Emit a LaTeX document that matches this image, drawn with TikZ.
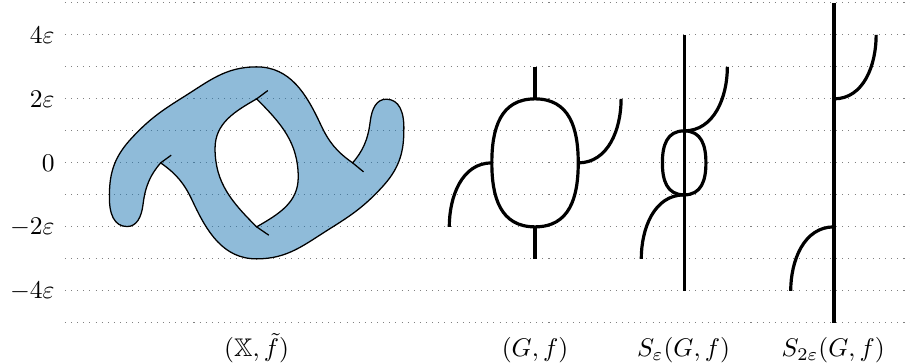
\documentclass[tikz,border=0pt]{standalone}
\usepackage{amssymb}
\definecolor{tabblue}{RGB}{31,119,180}
\begin{document}
\begin{tikzpicture}[x=0.441cm,y=0.441cm,
  gridline/.style={gray, line width=0.4pt, dotted},
  graphline/.style={line width=1.25pt},
  blobfill/.style={fill=tabblue, fill opacity=0.5, draw=black, line width=0.5pt, even odd rule},
  tickline/.style={draw=black, line width=0.5pt},
  ylab/.style={anchor=east, inner sep=0pt},
  caplabel/.style={anchor=base},
  ovalside/.style={looseness=1.15}
]
\useasboundingbox (0,-6.28) rectangle (28.4375,5.09);
% grid
\foreach \y in {-5,...,5} \draw[gridline] (2.03,\y) -- (28.4375,\y);
\node[ylab] (l4) at (1.72,4) {$4\varepsilon$};
\node[ylab] (l2) at (1.72,2) {$2\varepsilon$};
\node[ylab] (l0) at (1.72,0) {$0$};
\node[ylab] (lm2) at (1.72,-2) {$-2\varepsilon$};
\node[ylab] (lm4) at (1.72,-4) {$-4\varepsilon$};

% blob (X, f~)
\begin{scope}[shift={(8.02,0)}]
\coordinate (sL) at (-3,0);
\coordinate (sR) at (3,0);
\coordinate (cT) at (0,2);
\coordinate (cB) at (0,-2);
\path[blobfill]
  (sL) to[out=-35,in=115] (-2,-1.2) to[out=-65,in=180] (0,-3)
  to[out=0,in=-148] (2.3,-2.05) to[out=32,in=-133] (3.9,-0.78) to[out=47,in=-90] (4.6,1.0)
  .. controls (4.62,1.6) and (4.45,1.99) .. (4.05,1.99)
  .. controls (3.75,1.99) and (3.6,1.7) .. (3.55,1.3)
  .. controls (3.48,0.7) and (3.3,0.35) .. (sR)
  to[out=145,in=-65] (2,1.2) to[out=115,in=0] (0,3)
  to[out=180,in=32] (-2.3,2.05) to[out=-148,in=47] (-3.9,0.78) to[out=-133,in=90] (-4.6,-1.0)
  .. controls (-4.62,-1.6) and (-4.45,-1.99) .. (-4.05,-1.99)
  .. controls (-3.75,-1.99) and (-3.6,-1.7) .. (-3.55,-1.3)
  .. controls (-3.48,-0.7) and (-3.3,-0.35) .. (sL) -- cycle
  (cT) to[out=-150,in=90] (-1.3,0.45) to[out=-90,in=135] (cB)
  to[out=30,in=-90] (1.3,-0.45) to[out=90,in=-45] (cT) -- cycle;
\draw[tickline] (cT) -- ++(0.35,0.26);
\draw[tickline] (cB) -- ++(0.38,-0.26);
\draw[tickline] (sL) -- ++(0.33,0.24);
\draw[tickline] (sR) -- ++(0.34,-0.28);
\end{scope}
\node[caplabel] (cx) at (8.02,-6.06) {$(\mathbb{X},\tilde{f})$};

% (G,f)
\begin{scope}[shift={(16.72,0)}]
\coordinate (gT) at (0,2);
\coordinate (gB) at (0,-2);
\coordinate (gL) at (-1.35,0);
\coordinate (gR) at (1.35,0);
\coordinate (gTe) at (0,3);
\coordinate (gBe) at (0,-3);
\coordinate (gLe) at (-2.68,-2);
\coordinate (gRe) at (2.69,2);
\draw[graphline] (gT) to[ovalside,out=0,in=90] (gR) to[ovalside,out=-90,in=0] (gB)
  to[ovalside,out=180,in=-90] (gL) to[ovalside,out=90,in=180] (gT) -- cycle;
\draw[graphline] (gT) -- (gTe);
\draw[graphline] (gB) -- (gBe);
\draw[graphline] (gL) to[out=180,in=90] (gLe);
\draw[graphline] (gR) to[out=0,in=-90] (gRe);
\end{scope}
\node[caplabel] (cg) at (16.72,-6.06) {$(G,f)$};

% S_eps(G,f)
\begin{scope}[shift={(21.38,0)}]
\coordinate (sT) at (0,1);
\coordinate (sB) at (0,-1);
\coordinate (sSR) at (0.68,0);
\coordinate (sSL) at (-0.68,0);
\coordinate (sTe) at (0,4);
\coordinate (sBe) at (0,-4);
\coordinate (sRe) at (1.35,3);
\coordinate (sLe) at (-1.34,-3);
\draw[graphline] (sT) to[ovalside,out=0,in=90] (sSR) to[ovalside,out=-90,in=0] (sB)
  to[ovalside,out=180,in=-90] (sSL) to[ovalside,out=90,in=180] (sT) -- cycle;
\draw[graphline] (sTe) -- (sBe);
\draw[graphline] (sT) to[out=0,in=-90] (sRe);
\draw[graphline] (sB) to[out=180,in=90] (sLe);
\end{scope}
\node[caplabel] (cs) at (21.36,-6.06) {$S_{\varepsilon}(G,f)$};

% S_2eps(G,f)
\begin{scope}[shift={(26.06,0)}]
\coordinate (tT) at (0,2);
\coordinate (tB) at (0,-2);
\coordinate (tTe) at (0,5);
\coordinate (tBe) at (0,-5);
\coordinate (tRe) at (1.32,4);
\coordinate (tLe) at (-1.35,-4);
\draw[graphline] (tTe) -- (tBe);
\draw[graphline] (tT) to[out=0,in=-90] (tRe);
\draw[graphline] (tB) to[out=180,in=90] (tLe);
\end{scope}
\node[caplabel] (ct) at (26.04,-6.06) {$S_{2\varepsilon}(G,f)$};
\end{tikzpicture}
\end{document}
